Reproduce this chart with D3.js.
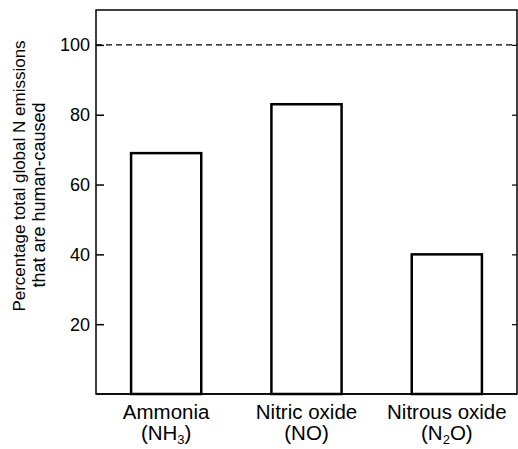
<!DOCTYPE html>
<html>
<head>
<meta charset="utf-8">
<script src="https://cdn.jsdelivr.net/npm/d3@7"></script>
<style>
  body { margin: 0; background: #fff; }
  svg { display: block; font-family: "Liberation Sans", Arial, sans-serif; }
</style>
</head>
<body>
<svg id="chart" width="518" height="449"></svg>
<script>
const categories = ["Ammonia", "Nitric oxide", "Nitrous oxide"];
const formulas = [["(NH", "3", ")"], ["(NO", "", ")"], ["(N", "2", "O)"]];
const values = [69, 83, 40];
const yTicks = [20, 40, 60, 80, 100];
const refLine = 100;

const svg = d3.select("#chart");
const margin = { top: 10, right: 1, bottom: 55, left: 96 };
const width = 518, height = 449;

const x = d3.scaleBand()
  .domain(categories)
  .range([margin.left, width - margin.right])
  .paddingInner(0.5)
  .paddingOuter(0.25);

const y = d3.scaleLinear()
  .domain([0, 110])
  .range([height - margin.bottom, margin.top]);

// frame
svg.append("rect")
  .attr("x", margin.left)
  .attr("y", margin.top)
  .attr("width", width - margin.right - margin.left)
  .attr("height", height - margin.bottom - margin.top)
  .attr("fill", "none")
  .attr("stroke", "#000")
  .attr("stroke-width", 1.5);

// left axis, ticks point inward
const left = svg.append("g")
  .attr("transform", `translate(${margin.left},0)`)
  .call(d3.axisRight(y).tickValues(yTicks).tickSize(8).tickFormat(""));
left.select(".domain").remove();
left.selectAll("line").attr("stroke-width", 1.5);

svg.append("g")
  .selectAll("text")
  .data(yTicks)
  .join("text")
  .attr("x", margin.left - 6)
  .attr("y", d => y(d))
  .attr("dy", "0.36em")
  .attr("text-anchor", "end")
  .style("font-size", "18px")
  .text(d => d);

// right axis ticks
const right = svg.append("g")
  .attr("transform", `translate(${width - margin.right},0)`)
  .call(d3.axisLeft(y).tickValues(yTicks).tickSize(5).tickFormat(""));
right.select(".domain").remove();
right.selectAll("line").attr("stroke-width", 1.2);

// dashed 100% line
svg.append("line")
  .attr("x1", margin.left)
  .attr("x2", width - margin.right)
  .attr("y1", y(refLine))
  .attr("y2", y(refLine))
  .attr("stroke", "#000")
  .attr("stroke-width", 1.3)
  .attr("stroke-dasharray", "6,4");

// bars
svg.append("g")
  .selectAll("rect")
  .data(values)
  .join("rect")
  .attr("x", (d, i) => x(categories[i]))
  .attr("y", d => y(d))
  .attr("width", x.bandwidth())
  .attr("height", d => y(0) - y(d))
  .attr("fill", "#fff")
  .attr("stroke", "#000")
  .attr("stroke-width", 2.5);

// bottom line drawn again over bar bottoms
svg.append("line")
  .attr("x1", margin.left)
  .attr("x2", width - margin.right)
  .attr("y1", y(0))
  .attr("y2", y(0))
  .attr("stroke", "#000")
  .attr("stroke-width", 1.5);

// category labels
const labels = svg.append("g")
  .selectAll("g")
  .data(categories)
  .join("g")
  .attr("transform", d => `translate(${x(d) + x.bandwidth() / 2},0)`)
  .style("font-size", "20.5px")
  .attr("text-anchor", "middle");

labels.append("text")
  .attr("y", 419)
  .text(d => d);

labels.append("text")
  .attr("y", 440)
  .each(function (d, i) {
    const f = formulas[i];
    const t = d3.select(this);
    t.append("tspan").text(f[0]);
    if (f[1]) {
      t.append("tspan").attr("dy", 4).style("font-size", "13px").text(f[1]);
      t.append("tspan").attr("dy", -4).text(f[2]);
    } else {
      t.append("tspan").text(f[2]);
    }
  });

// y axis title
svg.append("text")
  .attr("transform", "translate(25,176) rotate(-90)")
  .attr("text-anchor", "middle")
  .style("font-size", "17px")
  .text("Percentage total global N emissions");

svg.append("text")
  .attr("transform", "translate(45,195) rotate(-90)")
  .attr("text-anchor", "middle")
  .style("font-size", "18px")
  .text("that are human-caused");
</script>
</body>
</html>
